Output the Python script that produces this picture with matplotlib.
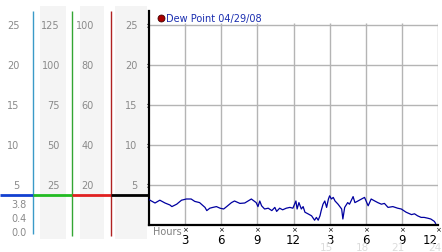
import numpy as np
import matplotlib
matplotlib.use("Agg")
import matplotlib.pyplot as plt
import matplotlib.transforms as mtransforms

# dew point readings over the day (hours since midnight)
hours = [0.0, 0.08, 0.5, 0.9, 1.33, 1.74, 1.9, 2.3, 2.7, 3.1, 3.5, 3.8, 4.2,
         4.65, 4.8, 5.05, 5.3, 5.6, 5.9, 6.2, 6.45, 6.85, 7.1, 7.55, 7.95,
         8.5, 8.9, 9.05, 9.2, 9.35, 9.6, 9.9, 10.2, 10.45, 10.6, 10.85, 11.1,
         11.4, 11.7, 11.95, 12.2, 12.3, 12.45, 12.65, 12.8, 12.95, 13.2, 13.5,
         13.75, 13.9, 14.05, 14.2, 14.3, 14.45, 14.6, 14.75, 14.9, 15.0, 15.15,
         15.3, 15.45, 15.7, 16.0, 16.1, 16.25, 16.5, 16.65, 16.95, 17.1, 17.35,
         17.65, 17.9, 18.2, 18.45, 18.75, 19.0, 19.3, 19.55, 19.85, 20.25,
         20.65, 20.95, 21.35, 21.8, 22.05, 22.3, 22.6, 22.85, 23.15, 23.4,
         23.7, 23.8]
dew = [3.2, 3.1, 2.75, 3.1, 2.75, 2.5, 2.3, 2.6, 3.1, 3.25, 3.25, 2.95, 2.8,
       2.2, 1.8, 2.1, 2.2, 2.3, 2.1, 2.0, 2.3, 2.8, 3.0, 2.7, 2.75,
       3.25, 2.8, 2.3, 3.0, 2.4, 2.0, 2.1, 1.8, 2.2, 1.7, 2.1, 1.9,
       2.1, 2.2, 2.1, 3.0, 2.0, 2.8, 2.0, 2.3, 1.6, 1.4, 1.15,
       0.6, 0.95, 0.6, 1.15, 1.8, 2.6, 3.0, 2.2, 3.25, 3.65, 3.25,
       3.45, 3.0, 2.6, 2.0, 0.75, 2.2, 2.8, 2.6, 3.55, 2.8, 3.0,
       3.25, 3.45, 2.4, 3.25, 3.0, 2.8, 2.6, 2.7, 2.2, 2.3,
       2.1, 2.0, 1.6, 1.3, 1.4, 1.15, 0.95, 0.95, 0.85, 0.75,
       0.45, 0.2]

y_ticks = [5, 10, 15, 20, 25]
x_ticks = [3, 6, 9, 12, 15, 18, 21, 24]
x_labels = ["3", "6", "9", "12", "3", "6", "9", "12"]
day2_labels = ["15", "18", "21", "24"]
col1_labels = ["5", "10", "15", "20", "25"]
col2_labels = ["25", "50", "75", "100", "125"]
col3_labels = ["20", "40", "60", "80", "100"]
col4_labels = ["5", "10", "15", "20", "25"]
current = 3.8
stat_labels = ["3.8", "0.4", "0.0"]
legend_text = "Dew Point 04/29/08"

W, H = 442, 253
fig = plt.figure(figsize=(W / 100, H / 100), dpi=100)
fig.patch.set_facecolor("white")

ymax = 26.75
bottom = (H - 226) / H
height = 214 / H
ax = fig.add_axes([149 / W, bottom, 289 / W, height])
side = fig.add_axes([0, bottom, 149 / W, height])

# ---- main plot
ax.set_xlim(0, 24)
ax.set_ylim(0, ymax)
for s in ["top", "right"]:
    ax.spines[s].set_visible(False)
ax.spines["left"].set_linewidth(1.6)
ax.spines["bottom"].set_linewidth(1.6)
ax.hlines(y_ticks, 0, 24, color="#b4b4b4", lw=1.0, zorder=0)
ax.vlines(x_ticks, 0, 25.2, color="#b4b4b4", lw=1.0, zorder=0)
ax.plot(hours, dew, color="#0000a0", lw=0.9, zorder=3)

ax.set_yticks(y_ticks)
ax.set_yticklabels(["\u00d7"] * len(y_ticks), fontsize=5)
ax.tick_params(axis="y", length=0, pad=0.5)
ax.set_xticks(x_ticks)
ax.set_xticklabels(x_labels, fontsize=8.5)
ax.tick_params(axis="x", length=0, pad=6)
# keep the last label inside the picture
last = ax.get_xticklabels()[-1]
last.set_horizontalalignment("right")
last.set_x(24)

trans = mtransforms.blended_transform_factory(ax.transData, ax.transAxes)
for xt in x_ticks:
    ax.text(xt, -0.022, "\u00d7", fontsize=5, ha="center", va="center",
            transform=trans, clip_on=False)
# faint second-day hour labels (partly cut by the bottom edge, as in the source)
for xt, lab in zip(x_ticks[4:], day2_labels):
    ax.text(xt - 0.3, -0.105, lab, fontsize=7.5, color="#dcdcdc", ha="center",
            va="center", transform=trans, clip_on=False)
ax.text(0.3, -0.03, "Hours", fontsize=7, color="#808080", ha="left",
        va="center", transform=trans, clip_on=False)

# legend
ax.plot([0.04], [0.965], "o", ms=5, mfc="#aa0000", mec="#400000", mew=0.6,
        transform=ax.transAxes, clip_on=False)
ax.text(0.06, 0.965, legend_text, fontsize=7, color="#1a2eb0", ha="left",
        va="center", transform=ax.transAxes)

# ---- side panel with scales
side.set_xlim(0, 149)
side.set_ylim(0, ymax)
side.axis("off")
for x0, x1 in [(40, 66), (80, 104), (115, 147)]:
    side.fill_between([x0, x1], -1.75, 27.4, color="#f4f4f4", lw=0,
                      clip_on=False, zorder=0)
side.vlines(33, -1.1, ymax, color="#3a9ac8", lw=1.0, clip_on=False)
side.vlines(72, -1.4, ymax, color="#33a633", lw=1.0, clip_on=False)
side.vlines(111, -1.4, ymax, color="#b02222", lw=1.0, clip_on=False)
for x0, x1, c in [(0, 33, "#1240d0"), (33, 72, "#22bb22"),
                  (72, 111, "#e02020"), (111, 149, "black")]:
    side.hlines(current, x0, x1, color=c, lw=2.0, clip_on=False, zorder=3)

for xr, labs in [(19.5, col1_labels), (60, col2_labels), (94, col3_labels),
                 (137.5, col4_labels)]:
    for yv, lab in zip(y_ticks, labs):
        side.text(xr, yv, lab, fontsize=7, color="#8a8a8a", ha="right",
                  va="center")
for yv, lab in zip([2.6, 0.9, -0.85], stat_labels):
    side.text(27, yv, lab, fontsize=7, color="#8a8a8a", ha="right",
              va="center", clip_on=False)

fig.savefig("out.png", dpi=100)
